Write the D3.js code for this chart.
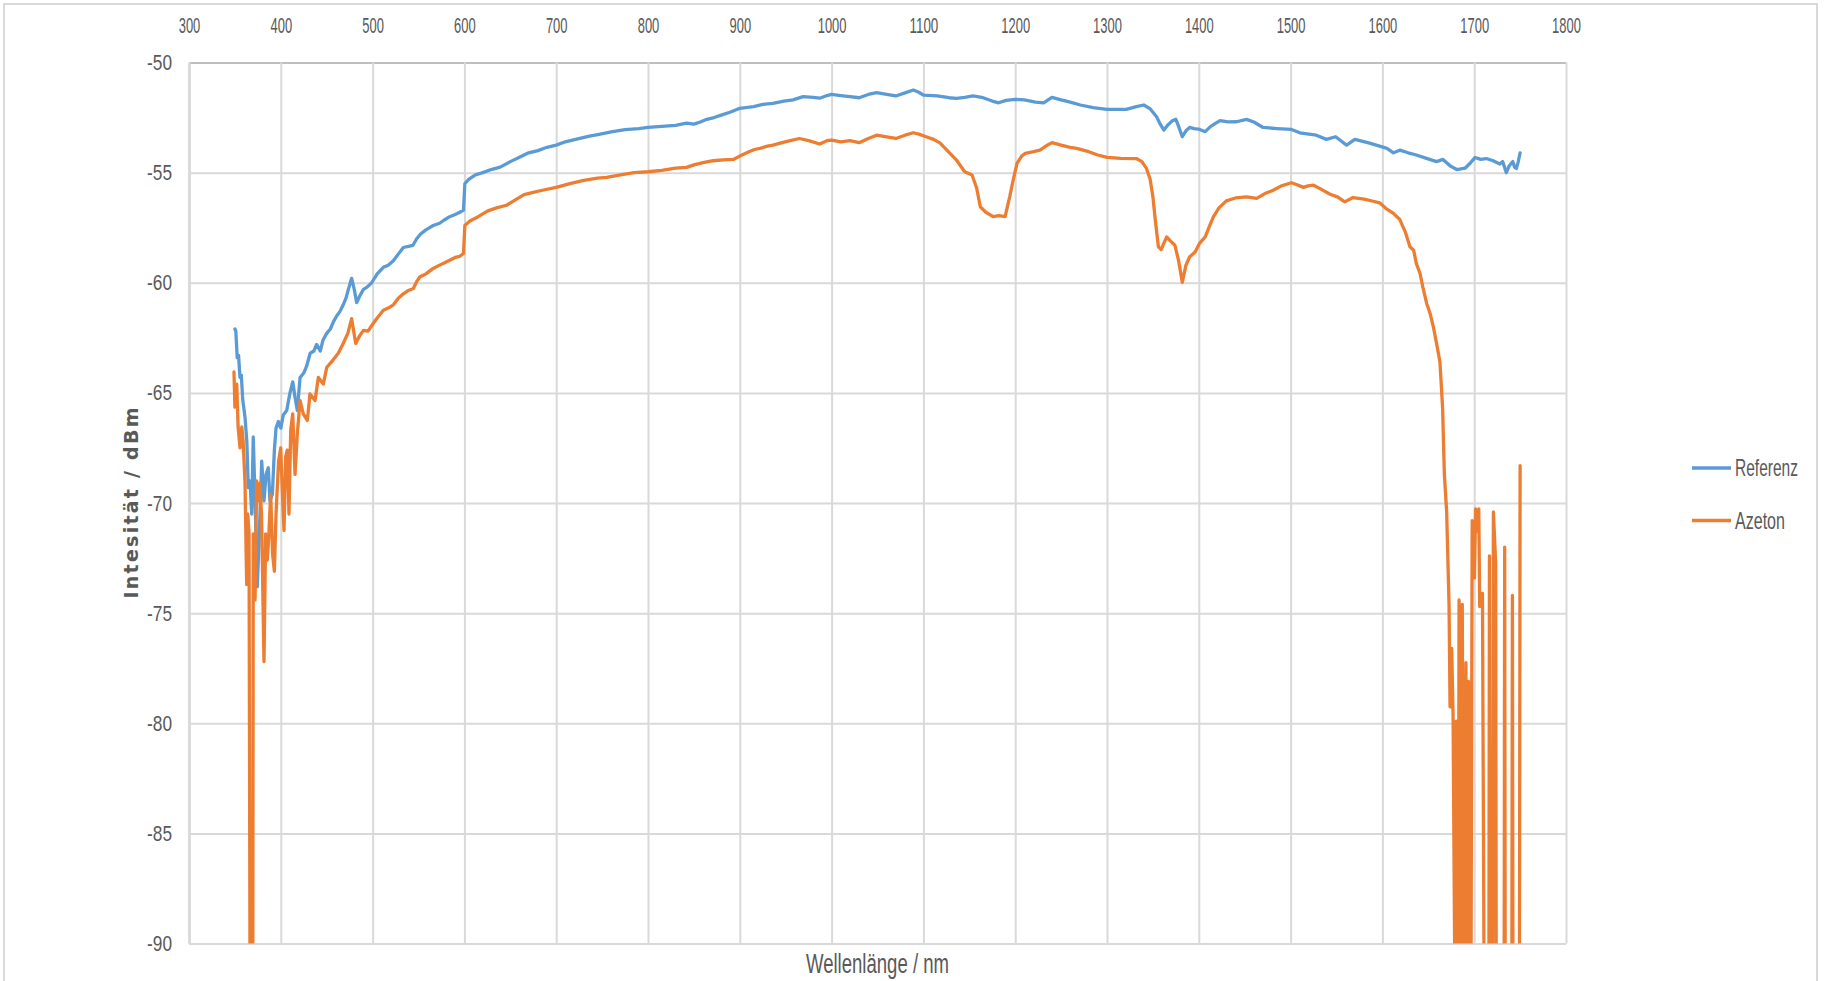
<!DOCTYPE html>
<html>
<head>
<meta charset="utf-8">
<script src="https://cdn.jsdelivr.net/npm/d3@7"></script>
<style>
  html, body { margin: 0; padding: 0; background: #fff; }
  svg { display: block; }
  text { fill: #595959; }
</style>
</head>
<body>
<svg id="chart" width="1825" height="981"></svg>
<script>
// Spectrum: Referenz vs. Azeton (wavelength nm, intensity dBm)
const xTickValues = [300, 400, 500, 600, 700, 800, 900, 1000, 1100, 1200, 1300, 1400, 1500, 1600, 1700, 1800];
const yTickValues = [-50, -55, -60, -65, -70, -75, -80, -85, -90];
const seriesNames = ["Referenz", "Azeton"];

const referenz = [
  [350,-62.1],[351,-62.2],[352.5,-63.4],[354,-63.3],[355.5,-64.3],[357,-64.2],[358.5,-65.3],[361,-66.1],
  [363,-67.2],[364.6,-69.3],[366.5,-69.0],[368.3,-70.5],[370,-67.0],[372,-69.9],[374.4,-73.8],[376.6,-71.4],
  [379.2,-68.1],[381.7,-69.9],[383.9,-68.7],[386.4,-68.4],[388.2,-69.9],[390.8,-69.6],[393,-67.6],[394.8,-66.6],
  [397.3,-66.3],[400,-66.6],[402.7,-66.0],[406.4,-65.8],[410,-65.0],[413,-64.5],[415.5,-65.2],[418,-65.8],
  [421,-64.3],[425,-64.1],[428,-63.8],[432,-63.2],[436,-63.1],[439,-62.8],[443,-63.1],[446,-62.6],
  [450,-62.3],[454,-62.1],[457,-61.8],[461,-61.5],[464.5,-61.3],[468,-61.0],[471,-60.7],[473.6,-60.3],
  [477.2,-59.8],[480,-60.3],[482.7,-60.9],[486,-60.6],[490,-60.3],[494,-60.2],[499,-60.0],[505,-59.6],
  [511.7,-59.3],[517,-59.2],[522.6,-59.0],[528,-58.7],[533.5,-58.4],[539,-58.35],[544,-58.3],[548,-58.0],
  [552,-57.8],[558,-57.6],[566,-57.4],[573,-57.3],[578,-57.15],[584,-57.0],[590,-56.9],[595,-56.8],
  [599,-56.7],[600.5,-55.5],[605,-55.3],[612,-55.1],[620,-55.0],[630,-54.85],[639,-54.75],[650,-54.5],
  [660,-54.3],[670,-54.1],[680,-54.0],[690,-53.85],[700,-53.75],[710,-53.6],[720,-53.5],[735,-53.35],
  [748,-53.25],[760,-53.15],[775,-53.05],[790,-53.0],[800,-52.95],[815,-52.9],[830,-52.85],[842,-52.75],
  [850,-52.8],[857,-52.7],[864,-52.58],[872,-52.5],[879,-52.4],[890,-52.25],[900,-52.08],[915,-52.0],
  [925,-51.9],[936,-51.86],[948,-51.75],[958,-51.7],[969,-51.55],[980,-51.58],[987,-51.62],[995,-51.5],
  [1000,-51.45],[1010,-51.5],[1020,-51.55],[1030,-51.6],[1040,-51.45],[1049,-51.37],[1060,-51.45],[1070,-51.52],
  [1080,-51.38],[1089,-51.25],[1095,-51.35],[1100,-51.48],[1115,-51.52],[1128,-51.6],[1136,-51.63],[1145,-51.58],
  [1154,-51.52],[1165,-51.6],[1175,-51.75],[1182,-51.83],[1190,-51.72],[1200,-51.67],[1210,-51.7],[1222,-51.8],
  [1231,-51.83],[1240,-51.58],[1250,-51.7],[1260,-51.8],[1271,-51.93],[1285,-52.05],[1300,-52.13],[1321,-52.13],
  [1332,-52.0],[1340,-51.93],[1347,-52.1],[1354,-52.46],[1358,-52.8],[1362,-53.07],[1366,-52.85],[1371,-52.65],
  [1375,-52.58],[1378,-52.9],[1382,-53.37],[1386,-53.1],[1390,-52.95],[1395,-53.0],[1401,-53.04],[1407,-53.14],
  [1413,-52.9],[1423,-52.64],[1432,-52.7],[1441,-52.69],[1452,-52.58],[1460,-52.7],[1470,-52.95],[1485,-53.0],
  [1501,-53.04],[1510,-53.19],[1520,-53.25],[1528,-53.3],[1539,-53.49],[1549,-53.37],[1561,-53.75],[1570,-53.49],
  [1585,-53.65],[1597,-53.8],[1605,-53.9],[1612,-54.1],[1619,-53.98],[1628,-54.1],[1637,-54.2],[1648,-54.35],
  [1659,-54.5],[1666,-54.4],[1674,-54.7],[1681,-54.86],[1690,-54.8],[1695,-54.6],[1701,-54.31],[1707,-54.4],
  [1713,-54.36],[1720,-54.45],[1728,-54.61],[1731,-54.5],[1735,-55.0],[1738,-54.7],[1742,-54.5],[1744,-54.75],
  [1746,-54.81],[1748,-54.5],[1750,-54.1]
];

const azeton = [
  [349,-64.05],[350,-65.65],[352,-64.6],[353.5,-66.55],[355.6,-67.5],[357.5,-66.55],[359,-67.2],[361,-69.05],
  [362.8,-73.7],[364,-70.5],[365.4,-71.4],[366.5,-92],[368,-92],[369.5,-92],[370,-71.4],[372,-74.4],
  [373.7,-69.0],[375.5,-69.9],[377.3,-69.1],[379,-70.5],[381.7,-77.2],[383.5,-71.4],[385.3,-72.6],[387,-71.4],
  [389,-69.6],[391,-72.3],[393,-73.1],[394.8,-70.5],[396.2,-69.3],[397.6,-68.1],[399.9,-67.5],[401.5,-69.3],
  [403.5,-71.25],[405.3,-67.9],[407.1,-67.6],[408.9,-70.5],[410.8,-66.7],[413,-65.95],[415.5,-68.7],[418,-66.85],
  [421,-65.35],[424.5,-65.95],[428.9,-66.25],[431.8,-65.05],[437.3,-65.35],[440.9,-64.3],[446.3,-64.6],[450,-63.85],
  [457,-63.5],[462.6,-63.2],[468,-62.76],[473,-62.3],[477.2,-61.63],[481.6,-62.76],[486,-62.4],[490,-62.16],
  [495,-62.2],[499.3,-61.93],[505,-61.6],[511.7,-61.25],[517,-61.15],[522.6,-61.0],[528,-60.7],[533.5,-60.5],
  [539,-60.35],[544.4,-60.26],[548,-59.95],[551.6,-59.73],[558,-59.6],[566,-59.35],[573,-59.2],[578,-59.1],
  [584,-58.98],[590,-58.85],[595,-58.8],[599,-58.67],[600.5,-57.4],[606,-57.2],[615,-57.0],[625,-56.75],
  [635,-56.6],[646,-56.48],[655,-56.25],[665,-56.0],[675,-55.9],[685,-55.8],[700,-55.67],[715,-55.5],
  [730,-55.35],[745,-55.25],[755,-55.22],[770,-55.1],[785,-55.0],[800,-54.96],[815,-54.9],[830,-54.8],
  [842,-54.76],[850,-54.65],[860,-54.55],[871,-54.46],[882,-54.42],[893,-54.4],[900,-54.25],[910,-54.05],
  [916,-53.95],[922,-53.9],[930,-53.8],[936,-53.75],[945,-53.65],[955,-53.55],[965,-53.45],[975,-53.55],
  [987,-53.7],[995,-53.55],[1000,-53.52],[1010,-53.6],[1020,-53.55],[1030,-53.64],[1040,-53.45],[1049,-53.3],
  [1060,-53.38],[1070,-53.45],[1080,-53.3],[1089,-53.19],[1095,-53.25],[1103,-53.37],[1111,-53.49],[1118,-53.65],
  [1129,-54.13],[1136,-54.43],[1145,-54.96],[1153,-55.11],[1158,-55.7],[1162,-56.55],[1168,-56.8],[1176,-57.0],
  [1182,-56.95],[1189,-57.0],[1194,-56.1],[1198,-55.3],[1202,-54.58],[1207,-54.25],[1211,-54.13],[1220,-54.05],
  [1227,-53.98],[1235,-53.75],[1240,-53.64],[1250,-53.75],[1260,-53.85],[1267,-53.9],[1280,-54.05],[1290,-54.2],
  [1300,-54.31],[1315,-54.35],[1332,-54.36],[1338,-54.5],[1343,-54.81],[1347,-55.3],[1350,-56.1],[1353,-57.3],
  [1356,-58.37],[1359,-58.49],[1362,-58.2],[1365,-57.92],[1369,-58.1],[1374,-58.3],[1378,-59.0],[1382,-59.98],
  [1386,-59.2],[1390,-58.83],[1396,-58.6],[1401,-58.2],[1407,-57.92],[1412,-57.4],[1416,-57.0],[1422,-56.6],
  [1430,-56.28],[1440,-56.15],[1452,-56.1],[1463,-56.17],[1472,-55.95],[1481,-55.8],[1490,-55.6],[1501,-55.46],
  [1507,-55.55],[1514,-55.67],[1519,-55.6],[1525,-55.57],[1533,-55.75],[1543,-55.98],[1551,-56.1],[1559,-56.33],
  [1568,-56.13],[1580,-56.2],[1590,-56.3],[1597,-56.37],[1604,-56.63],[1612,-56.85],[1619,-57.13],[1625,-57.7],
  [1630,-58.37],[1634,-58.52],[1637,-59.13],[1641,-59.58],[1644,-60.19],[1648.3,-60.95],[1652,-61.4],[1655.5,-62.0],
  [1659,-62.75],[1662.7,-63.6],[1665.6,-65.7],[1667.5,-68.7],[1670,-70.4],[1672.6,-74.6],[1673.7,-79.25],[1675.5,-76.6],
  [1677,-79.7],[1678,-86.0],[1679,-92],[1680.5,-79.9],[1682.8,-92],[1683.5,-74.4],[1684.5,-83.9],[1685.3,-75.9],
  [1686,-92],[1687,-74.6],[1688.6,-92],[1691,-77.25],[1692,-92],[1693.8,-78.1],[1695,-92],[1696.5,-92],
  [1697.8,-70.8],[1700.3,-73.4],[1701.5,-70.27],[1703,-71.3],[1705,-70.27],[1706,-74.7],[1709,-74.1],[1710.8,-92],
  [1716,-92],[1716.6,-72.4],[1717.3,-92],[1720.2,-92],[1720.9,-70.4],[1723.4,-72.7],[1724,-92],[1732.6,-92],
  [1733.2,-72.0],[1733.8,-92],[1741,-92],[1741.6,-74.2],[1742.2,-92],[1749.3,-92],[1750,-68.3]
];

const colors = ["#5B9BD5", "#ED7D31"];
const narrow = "'Liberation Sans Narrow', 'Liberation Sans', sans-serif";

const svg = d3.select("#chart");
const margin = { top: 62.5, left: 189, right: 259, bottom: 37.5 };
const width = 1825, height = 981;
const plotW = width - margin.left - margin.right;
const plotH = height - margin.top - margin.bottom;

// Squeeze a text horizontally to a given width, around its own anchor point
// (the original uses a very condensed face)
function fit(sel, w) {
  sel.each(function() {
    const el = d3.select(this);
    const ax = +el.attr("x") || 0;
    const ay = +el.attr("y") || 0;
    const k = w / this.getComputedTextLength();
    el.attr("transform", `translate(${ax},${ay}) scale(${k},1) translate(${-ax},${-ay})`);
  });
}

// Outer chart border
svg.append("rect")
  .attr("x", 4).attr("y", 4)
  .attr("width", 1813).attr("height", 1000)
  .attr("fill", "#fff")
  .attr("stroke", "#d9d9d9")
  .attr("stroke-width", 2);

const g = svg.append("g").attr("transform", `translate(${margin.left},${margin.top})`);

const x = d3.scaleLinear().domain([300, 1800]).range([0, plotW]);
const y = d3.scaleLinear().domain([-90, -50]).range([plotH, 0]);

// Horizontal grid + left axis
const yAxis = g.append("g")
  .call(d3.axisLeft(y).tickValues(yTickValues).tickFormat(d => String(d))
    .tickSizeInner(-plotW).tickSizeOuter(0).tickPadding(17));
yAxis.selectAll(".tick line").attr("stroke", "#d9d9d9").attr("stroke-width", 2);
yAxis.select(".domain").attr("stroke", "#bfbfbf").attr("stroke-width", 2);
yAxis.selectAll("text")
  .style("font-family", narrow)
  .style("font-size", "22px")
  .attr("fill", "#595959")
  .call(fit, 25);

// Vertical grid + top axis
const xAxis = g.append("g")
  .call(d3.axisTop(x).tickValues(xTickValues).tickFormat(d => String(d))
    .tickSizeInner(-plotH).tickSizeOuter(0).tickPadding(30));
xAxis.selectAll(".tick line").attr("stroke", "#d9d9d9").attr("stroke-width", 2);
xAxis.select(".domain").attr("stroke", "#bfbfbf").attr("stroke-width", 2);
xAxis.selectAll("text")
  .style("font-family", narrow)
  .style("font-size", "22px")
  .attr("fill", "#595959")
  .each(function(d) { d3.select(this).call(fit, String(d).length * 7.2); });

// Clip the data lines to the plot area
svg.append("defs").append("clipPath").attr("id", "plot-clip")
  .append("rect").attr("x", 0).attr("y", -2).attr("width", plotW).attr("height", plotH + 2);

const line = d3.line().x(d => x(d[0])).y(d => y(d[1]));

const lines = g.append("g").attr("clip-path", "url(#plot-clip)");
[referenz, azeton].forEach((data, i) => {
  lines.append("path")
    .datum(data)
    .attr("fill", "none")
    .attr("stroke", colors[i])
    .attr("stroke-width", 3.3)
    .attr("stroke-linejoin", "round")
    .attr("stroke-linecap", "round")
    .attr("d", line);
});

// Axis titles
svg.append("text")
  .attr("x", margin.left + plotW / 2)
  .attr("y", 973)
  .attr("text-anchor", "middle")
  .style("font-family", narrow)
  .style("font-size", "28px")
  .text("Wellenlänge / nm")
  .call(fit, 143);

svg.append("text")
  .attr("transform", `translate(138, ${margin.top + plotH / 2}) rotate(-90)`)
  .attr("text-anchor", "middle")
  .style("font-family", "'DejaVu Sans', sans-serif")
  .style("font-size", "19px")
  .style("font-weight", "bold")
  .attr("textLength", 191)
  .attr("lengthAdjust", "spacing")
  .text("Intesität / dBm");

// Legend
const legendWidths = [63, 50];
const legend = svg.append("g").attr("transform", "translate(1692, 468)");
seriesNames.forEach((name, i) => {
  const row = legend.append("g").attr("transform", `translate(0, ${i * 52.5})`);
  row.append("line")
    .attr("x1", 0).attr("x2", 39)
    .attr("stroke", colors[i])
    .attr("stroke-width", 3.3);
  row.append("text")
    .attr("x", 43)
    .attr("y", 0)
    .attr("dy", "0.35em")
    .style("font-family", narrow)
    .style("font-size", "23px")
    .text(name)
    .call(fit, legendWidths[i]);
});
</script>
</body>
</html>
